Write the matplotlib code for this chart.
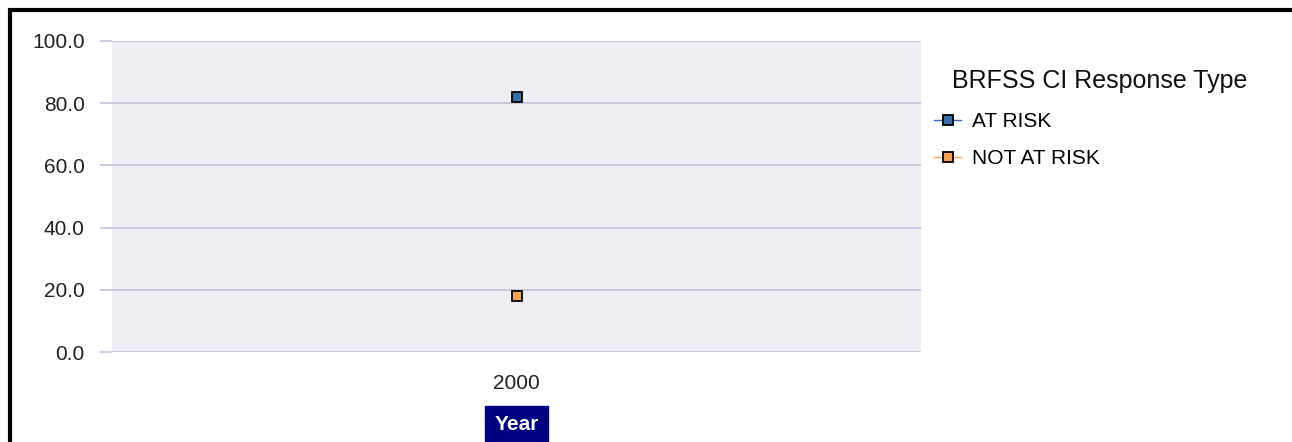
import matplotlib
matplotlib.use("Agg")
import matplotlib.pyplot as plt
from matplotlib.patches import Rectangle

plt.rcParams['font.family'] = ['Liberation Sans', 'DejaVu Sans']

years = ["2000"]
series_names = ["AT RISK", "NOT AT RISK"]
series_values = [[82.0], [18.0]]
series_colors = ["#3b6ea8", "#f5a44f"]
y_ticks = [0, 20, 40, 60, 80, 100]

W, H = 1292, 442
fig = plt.figure(figsize=(W / 100, H / 100), dpi=100)
ax = fig.add_axes([112 / W, 1 - 352 / H, (921 - 112) / W, (352 - 41) / H])
ax.set_facecolor("#efeef5")

x = list(range(len(years)))
for name, vals, col in zip(series_names, series_values, series_colors):
    ax.plot(x, vals, color=col, lw=1, marker="s", markersize=6.5,
            markerfacecolor=col, markeredgecolor="black", markeredgewidth=1.3,
            label=name, zorder=3)

ax.set_xlim(-0.5, len(years) - 0.5)
ax.set_ylim(0, 100)
ax.set_yticks(y_ticks)
ax.set_yticklabels([f"{v:.1f}" for v in y_ticks], fontsize=15, color="#222222")
ax.set_xticks(x)
ax.set_xticklabels(years, fontsize=15, color="#222222")
ax.tick_params(axis="y", length=8.6, color="#c3c2d8", width=1.2, pad=11)
ax.tick_params(axis="x", length=0, pad=16)
ax.yaxis.grid(True, color="#c3c2d8", lw=1.2)
ax.set_axisbelow(True)
for s in ax.spines.values():
    s.set_visible(False)

# etykieta osi X w granatowej ramce
fig.text(516.5 / W, 1 - 425 / H, "Year", fontsize=15, fontweight="bold",
         color="white", ha="center", va="center",
         bbox=dict(boxstyle="square,pad=0.45", facecolor="#000080",
                   edgecolor="#000080"))

# legenda
fig.text(952 / W, 1 - 88 / H, "BRFSS CI Response Type", fontsize=18,
         color="#111111", ha="left", va="baseline")
fig.legend(loc="upper left", bbox_to_anchor=(934 / W, 1 - 112 / H),
           frameon=False, fontsize=15, handlelength=1.3, handletextpad=0.5,
           labelspacing=0.88, borderpad=0, borderaxespad=0)

# ramka wokół wykresu
fig.patches.append(Rectangle((9.5 / W, -0.1), 1.2, 1 - 9.5 / H + 0.1,
                             transform=fig.transFigure, fill=False,
                             edgecolor="black", lw=3))

fig.savefig("out.png", dpi=100)
